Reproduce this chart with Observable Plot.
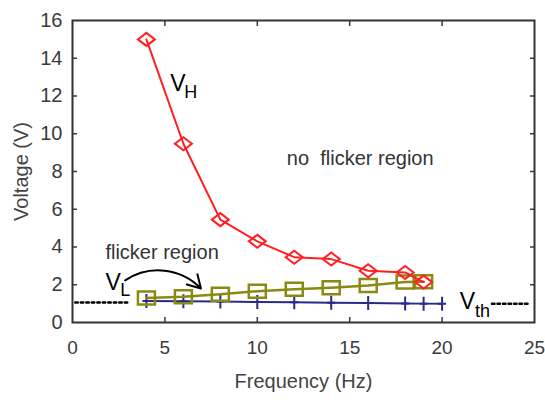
<!DOCTYPE html>
<html><head><meta charset="utf-8">
<script src="https://cdn.jsdelivr.net/npm/d3@7"></script>
<script src="https://cdn.jsdelivr.net/npm/@observablehq/plot@0.6"></script>
<style>body{margin:0;background:#fff}</style>
</head><body><div id="chart"></div>
<script>
// ---- data ----
const freqH = [4, 6, 8, 10, 12, 14, 16, 18, 19];
const vH    = [15.0, 9.47, 5.45, 4.3, 3.46, 3.36, 2.74, 2.65, 2.14];
const freqL = [4, 6, 8, 10, 12, 14, 16, 18, 19];
const vL    = [1.3, 1.36, 1.5, 1.66, 1.76, 1.84, 1.96, 2.14, 2.16];
const freqTh = [4, 6, 8, 10, 12, 14, 16, 18, 19, 20];
const vTh    = [1.14, 1.13, 1.11, 1.09, 1.07, 1.05, 1.03, 1.01, 1.0, 0.99];
const xTicks = [0, 5, 10, 15, 20, 25];
const yTicks = [0, 2, 4, 6, 8, 10, 12, 14, 16];
const xLabel = "Frequency (Hz)";
const yLabel = "Voltage (V)";
// threshold dotted segments (frequency range, voltage)
const thLeftX = [0.15, 3.0], thLeftY = 1.06;
const thRightX = [22.7, 24.7], thRightY = 1.0;
// annotations
const regionLabels = [
  {text: "no\u00a0 flicker region", x: 11.6, y: 8.32},
  {text: "flicker region", x: 1.78, y: 3.39}
];
const mainLabels = [
  {text: "V", x: 5.29, y: 12.29},
  {text: "V", x: 1.78, y: 1.72},
  {text: "V", x: 20.95, y: 0.74}
];
const subLabels = [
  {text: "H", x: 6.05, y: 11.88},
  {text: "L", x: 2.58, y: 1.43},
  {text: "th", x: 21.78, y: 0.28}
];
const arrowFrom = [2.85, 2.23];
const arrowTo = [6.95, 1.8];

// ---- derived tables ----
const dataH = freqH.map((f, i) => ({f, v: vH[i]}));
const dataL = freqL.map((f, i) => ({f, v: vL[i]}));
const dataTh = freqTh.map((f, i) => ({f, v: vTh[i]}));
const thLeft = thLeftX.map(f => ({f, v: thLeftY}));
const thRight = thRightX.map(f => ({f, v: thRightY}));

const diamond = {draw(c) { c.moveTo(0, -6.5); c.lineTo(8.5, 0); c.lineTo(0, 6.5); c.lineTo(-8.5, 0); c.closePath(); }};
const square = {draw(c) { c.moveTo(-8.5, -6.5); c.lineTo(8.5, -6.5); c.lineTo(8.5, 6.5); c.lineTo(-8.5, 6.5); c.closePath(); }};
const plus = {draw(c) { c.moveTo(0, -7); c.lineTo(0, 7); c.moveTo(-4, 0); c.lineTo(4, 0); }};

const RED = "#ff1f1f", OLIVE = "#8a8a12", NAVY = "#2a2a88";
const noText = () => "";

const chart = Plot.plot({
  width: 545, height: 400,
  marginLeft: 72, marginRight: 11, marginTop: 20, marginBottom: 78,
  x: {domain: [0, 25]},
  y: {domain: [0, 16]},
  style: {fontFamily: "'Liberation Sans', Arial, sans-serif", fontSize: "20px", color: "#3a3a3a", background: "#fff"},
  marks: [
    // axes: labels outside, ticks inside on all four sides
    Plot.axisX(xTicks, {anchor: "bottom", tickSize: 0, tickPadding: 18, label: null, fontSize: 19}),
    Plot.axisY(yTicks, {anchor: "left", tickSize: 0, tickPadding: 10, label: null, fontSize: 20}),
    Plot.axisX(xTicks.slice(1, -1), {anchor: "bottom", tickSize: -5, tickFormat: noText, label: null, strokeWidth: 1.5}),
    Plot.axisX(xTicks.slice(1, -1), {anchor: "top", tickSize: -5, tickFormat: noText, label: null, strokeWidth: 1.5}),
    Plot.axisY(yTicks.slice(1, -1), {anchor: "left", tickSize: -5, tickFormat: noText, label: null, strokeWidth: 1.5}),
    Plot.axisY(yTicks.slice(1, -1), {anchor: "right", tickSize: -5, tickFormat: noText, label: null, strokeWidth: 1.5}),
    Plot.text([xLabel], {text: d => d, frameAnchor: "bottom", dy: 59, textAnchor: "middle", lineAnchor: "middle", fontSize: 20, fill: "#444"}),
    Plot.text([yLabel], {text: d => d, frameAnchor: "left", dx: -51, rotate: -90, textAnchor: "middle", lineAnchor: "middle", fontSize: 20, fill: "#444"}),

    // threshold dotted lines
    Plot.line(thLeft, {x: "f", y: "v", stroke: "#000", strokeWidth: 2.5, strokeDasharray: "2.5,3"}),
    Plot.line(thRight, {x: "f", y: "v", stroke: "#000", strokeWidth: 2.5, strokeDasharray: "2.5,3"}),

    // Vth
    Plot.line(dataTh, {x: "f", y: "v", stroke: NAVY, strokeWidth: 2}),
    Plot.dot(dataTh, {x: "f", y: "v", symbol: plus, stroke: NAVY, strokeWidth: 2, fill: "none"}),
    // VL
    Plot.line(dataL, {x: "f", y: "v", stroke: OLIVE, strokeWidth: 2.5}),
    Plot.dot(dataL, {x: "f", y: "v", symbol: square, stroke: OLIVE, strokeWidth: 2.5, fill: "none"}),
    // VH
    Plot.line(dataH, {x: "f", y: "v", stroke: RED, strokeWidth: 2}),
    Plot.dot(dataH, {x: "f", y: "v", symbol: diamond, stroke: RED, strokeWidth: 2, fill: "none"}),

    // annotations
    Plot.text(regionLabels, {x: "x", y: "y", text: "text", textAnchor: "start", lineAnchor: "bottom", fontSize: 20, fill: "#333"}),
    Plot.text(mainLabels, {x: "x", y: "y", text: "text", textAnchor: "start", lineAnchor: "bottom", fontSize: 23, fill: "#000"}),
    Plot.text(subLabels, {x: "x", y: "y", text: "text", textAnchor: "start", lineAnchor: "bottom", fontSize: 18, fill: "#000"}),
    Plot.arrow([{x1: arrowFrom[0], y1: arrowFrom[1], x2: arrowTo[0], y2: arrowTo[1]}],
      {x1: "x1", y1: "y1", x2: "x2", y2: "y2", bend: 40, stroke: "#000", strokeWidth: 2, headLength: 11}),

    Plot.frame({stroke: "#333", strokeWidth: 2})
  ]
});
document.getElementById("chart").appendChild(chart);
</script>
</body></html>
